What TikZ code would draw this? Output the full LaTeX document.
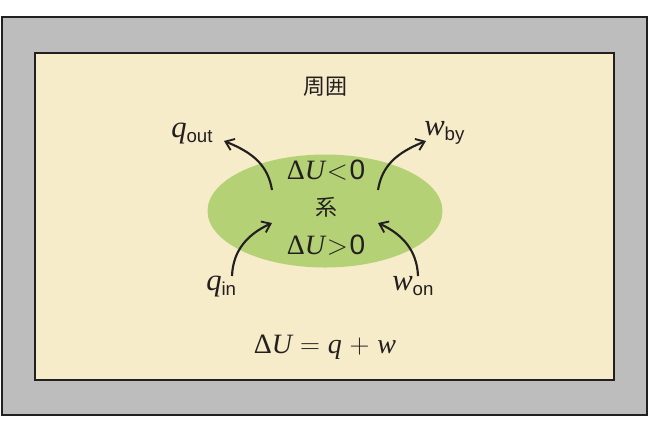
\documentclass[tikz,border=0pt]{standalone}
\usepackage{fontspec}
\setmainfont{Liberation Sans}
\newfontfamily\tms{Liberation Serif}
\newfontfamily\cjk{Noto Sans CJK JP}
\usetikzlibrary{arrows.meta,shapes.geometric}
\definecolor{outergray}{HTML}{BDBDBD}
\definecolor{cream}{HTML}{F6ECC9}
\definecolor{leafgreen}{HTML}{B4D275}
\definecolor{edge}{HTML}{231F20}
\newcommand{\mvar}[1]{{\tms\itshape #1}}
\newcommand{\mrel}[1]{\hspace{0.06em}${#1}$\hspace{0.06em}}
\newcommand{\mbin}[1]{\hspace{0.28em}${#1}$\hspace{0.28em}}
\newcommand{\msub}[1]{\raisebox{-3.8pt}{\fontsize{14}{16}\selectfont #1}}
\begin{document}
\begin{tikzpicture}[x=0.75pt,y=-0.75pt,
  lbl/.style={inner sep=0pt,text=edge},
  big/.style={font=\fontsize{21}{25}\selectfont},
  var/.style={font=\fontsize{23}{27}\selectfont},
  jp/.style={font=\cjk\fontsize{16.5}{20}\selectfont},
  flow/.style={draw=edge,line width=1.6pt,-{Straight Barb[length=6pt,width=9pt,line width=1.4pt]}}]
\useasboundingbox (0,0) rectangle (650,437);
\draw[fill=outergray,draw=edge,line width=1.6pt] (2,17) rectangle (647,415);
\draw[fill=cream,draw=edge,line width=1.6pt] (35,53) rectangle (614,380);
\node[fill=leafgreen,ellipse,minimum width=176.25pt,minimum height=84.75pt,draw=none,inner sep=0pt] (sys) at (325,211) {};
\node[lbl,jp] (env) at (325,87) {周囲};
\node[lbl,big] (dlt) at (326,170) {{\tms Δ}\mvar{U}\mrel{<}0};
\node[lbl,jp] (xi) at (326,207) {系};
\node[lbl,big] (dgt) at (326,245) {{\tms Δ}\mvar{U}\mrel{>}0};
\node[lbl,var,anchor=base west] (qout) at (171,137) {\mvar{q}\msub{out}};
\node[lbl,var,anchor=base west] (wby) at (424,135) {\mvar{w}\msub{by}};
\node[lbl,var,anchor=base west] (qin) at (206,290) {\mvar{q}\msub{in}};
\node[lbl,var,anchor=base west] (won) at (392,290) {\mvar{w}\msub{on}};
\node[lbl,big] (eq) at (325,347) {{\tms Δ}\mvar{U}\mbin{=}\mvar{q}\mbin{+}\mvar{w}};
\coordinate (a1s) at (272,190); \coordinate (a1e) at (224,141);
\coordinate (a2s) at (378,190); \coordinate (a2e) at (426,141);
\coordinate (a3s) at (232,276); \coordinate (a3e) at (272,223);
\coordinate (a4s) at (418,276); \coordinate (a4e) at (378,223);
\draw[flow] (a1s) .. controls (268,166) and (254,153) .. (a1e);
\draw[flow] (a2s) .. controls (382,166) and (396,153) .. (a2e);
\draw[flow] (a3s) .. controls (233,250) and (248,234) .. (a3e);
\draw[flow] (a4s) .. controls (417,250) and (402,234) .. (a4e);
\end{tikzpicture}
\end{document}
